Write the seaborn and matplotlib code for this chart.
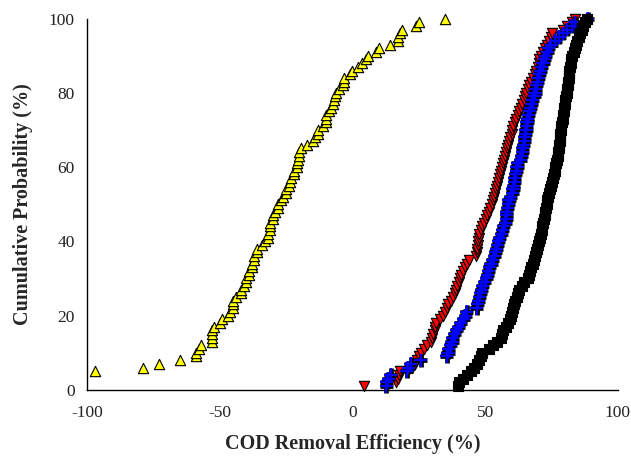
import numpy as np
import pandas as pd
import matplotlib
matplotlib.use("Agg")
import matplotlib.pyplot as plt
import matplotlib.patheffects as pe
import seaborn as sns

# COD removal efficiency (%) for each of the four data sets, sorted ascending.
yellow_x = [-180, -150, -125, -110, -97, -79, -73, -65, -59, -59,
            -58, -57, -53, -53, -53, -53, -52, -50, -49, -47,
            -46, -45, -45, -45, -44, -42, -42, -41, -40, -40,
            -39, -39, -38, -38, -37, -37, -36, -36, -34, -33,
            -32, -32, -31, -31, -31, -30, -30, -29, -28, -28,
            -27, -26, -25, -25, -24, -23.5, -23, -22, -22, -21,
            -21, -20.5, -20, -20, -19.5, -17, -15, -14, -13, -13,
            -11, -10, -10, -10, -9, -8, -7.5, -7, -6.5, -6,
            -5, -3.5, -3, -3, -1, 0, 2, 3.5, 5, 6,
            9, 10, 14, 17, 17, 18, 18.5, 24, 25, 35]

red_x = [4.5, 16.5, 17, 17.5, 18, 22.5, 23.5, 24.5, 25, 25.7,
         27, 28, 29.5, 30, 30.5, 31, 31.3, 31.6, 33, 34,
         35, 35.5, 36, 37, 38, 38.5, 39, 39.5, 40, 40.5,
         40.8, 41.5, 42.3, 43, 44, 46.5, 46.8, 47, 47.2, 47.4,
         47.6, 47.8, 48.3, 48.8, 49.5, 50.2, 50.8, 51.4, 52, 52.5,
         53, 53.5, 53.8, 54.1, 54.4, 54.8, 55.2, 55.6, 56, 56.4,
         56.8, 57.2, 57.5, 58, 58.4, 58.8, 59, 59.5, 60, 60.3,
         60.6, 61.2, 61.8, 62.3, 62.8, 63.5, 64, 64.5, 65, 65.5,
         66, 66.5, 67.3, 68, 68.8, 69.3, 69.8, 70.2, 70.4, 71,
         71.8, 72.6, 73.5, 74.2, 75, 75.3, 79.5, 81, 82.6, 83.8]

blue_x = [12.8, 13, 13.5, 14.4, 20.5, 21.1, 21.9, 25.7, 35.5, 36,
          36.3, 37, 37.5, 37.8, 38.5, 39.3, 40, 40.8, 41.8, 42.5,
          43, 46.8, 47, 47.4, 47.8, 48.2, 48.6, 49, 49.8, 50.4,
          50.8, 51.3, 51.8, 52.2, 52.8, 53.4, 53.8, 54.2, 54.6, 55,
          55.5, 56.2, 56.6, 57, 57.6, 58, 58, 58.1, 58.3, 58.8,
          59, 59.6, 60.2, 60.5, 60.8, 61, 61.2, 61.5, 61.8, 62,
          62.3, 63.2, 63.6, 64, 64.2, 64.5, 64.8, 65, 65.2, 65.4,
          65.6, 65.8, 66, 66.4, 66.8, 67.2, 67.6, 68, 68.6, 68.8,
          69.1, 69.4, 69.7, 70, 70.4, 70.8, 71.2, 71.8, 72.3, 72.8,
          73.4, 74, 75, 76.4, 78, 79.5, 81, 82.6, 83.8, 88.7]

black_x = [39.7, 40, 41.5, 43, 44.6, 46, 46.8, 47.6, 48.3, 49,
           51.4, 53, 54.5, 55.9, 56.3, 56.6, 57.8, 58.8, 59.3, 59.7,
           60.2, 60.6, 61, 61.2, 62, 62.5, 62.8, 64, 64.5, 66,
           66.6, 67, 67.3, 68, 68.5, 68.8, 69.2, 69.5, 70, 70.5,
           70.8, 71, 71.3, 71.5, 71.8, 72.1, 72.4, 72.7, 73, 73.2,
           73.4, 73.8, 74.2, 74.5, 74.9, 75.2, 75.5, 75.9, 76.2, 76.4,
           76.7, 77, 77.3, 77.5, 77.7, 77.9, 78.1, 78.3, 78.4, 78.6,
           78.8, 79, 79.3, 79.5, 79.7, 79.9, 80.1, 80.3, 80.5, 80.7,
           80.9, 81.1, 81.3, 81.5, 81.6, 81.8, 82, 82.2, 82.4, 82.8,
           83.4, 83.8, 84.3, 84.8, 85.3, 85.8, 86.5, 86.9, 87.6, 88.4]

x_ticks = [-100, -50, 0, 50, 100]
y_ticks = [0, 20, 40, 60, 80, 100]
x_range = (-100, 100)


def cumulative(values):
    """Empirical cumulative probability (%) of each sorted value."""
    v = np.sort(np.asarray(values, dtype=float))
    p = np.arange(1, len(v) + 1) / len(v) * 100.0
    df = pd.DataFrame({"efficiency": v, "probability": p})
    # points beyond the plotted efficiency range are not drawn
    return df[(df.efficiency >= x_range[0]) & (df.efficiency <= x_range[1])]


sns.set_style("white")
plt.rcParams["font.family"] = ["Liberation Serif", "DejaVu Serif"]
plt.rcParams["axes.unicode_minus"] = False

fig = plt.figure(figsize=(6.31, 4.63), dpi=100)
ax = fig.add_axes([0.138, 0.158, 0.841, 0.802])

# yellow up-triangles and red down-triangles with black outlines
for values, marker, color in [(yellow_x, "^", "#FFFF00"),
                              (red_x, "v", "#FF0000")]:
    sns.scatterplot(data=cumulative(values), x="efficiency", y="probability",
                    marker=marker, color=color, edgecolor="black",
                    linewidth=0.8, s=55, ax=ax, clip_on=False, zorder=3)

# blue crosses with a dark outline
sns.scatterplot(data=cumulative(blue_x), x="efficiency", y="probability",
                marker="+", color="#0000FF", linewidth=1.6, s=90, ax=ax,
                clip_on=False, zorder=3,
                path_effects=[pe.Stroke(linewidth=3.4, foreground="black"),
                              pe.Normal()])

# black squares
sns.scatterplot(data=cumulative(black_x), x="efficiency", y="probability",
                marker="s", color="#000000", edgecolor="black",
                linewidth=0.8, s=55, ax=ax, clip_on=False, zorder=3)

ax.set_xlim(*x_range)
ax.set_ylim(0, 100)
ax.set_xticks(x_ticks)
ax.set_yticks(y_ticks)
ax.tick_params(axis="both", direction="out", length=5, width=1,
               color="black", labelsize=12.5, labelcolor="#222222")
ax.tick_params(axis="x", pad=6)
ax.tick_params(axis="y", pad=4)

for side in ("top", "right"):
    ax.spines[side].set_visible(False)
for side in ("left", "bottom"):
    ax.spines[side].set_color("black")
    ax.spines[side].set_linewidth(1.0)

ax.set_xlabel("COD Removal Efficiency (%)", fontsize=14.5, fontweight="bold",
              labelpad=9)
ax.set_ylabel("Cumulative Probability (%)", fontsize=14.5, fontweight="bold",
              labelpad=11)

fig.savefig("out.png", dpi=100)
